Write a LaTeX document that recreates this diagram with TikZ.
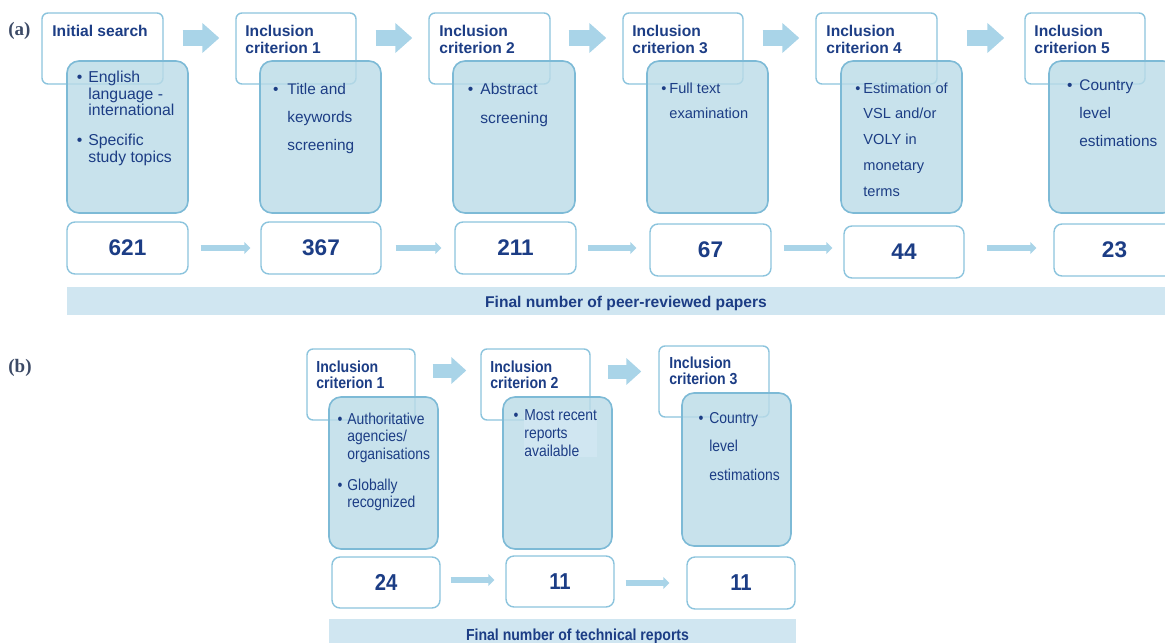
\documentclass[tikz,border=0pt]{standalone}
\usepackage{fontspec}
\setmainfont{Liberation Sans}
\newfontfamily\serifb{Liberation Serif}
\newfontfamily\narrow[FakeStretch=0.88]{Liberation Sans}
\usetikzlibrary{arrows.meta,fit}
\definecolor{navy}{HTML}{1C3D85}
\definecolor{edge}{HTML}{8CC4DD}
\definecolor{bluefill}{HTML}{BADBE7}
\definecolor{bluedge}{HTML}{7DBAD6}
\definecolor{arr}{HTML}{A9D4E8}
\definecolor{barfill}{HTML}{D0E6F1}
\definecolor{lbl}{HTML}{3C4A66}
\newcommand\bul[1][3pt]{\llap{•\hspace{#1}}}
\begin{document}
\begin{tikzpicture}[x=0.5pt,y=-0.5pt,
  hdr/.style={draw=edge, line width=0.7pt, fill=white, rounded corners=3pt, inner sep=0pt},
  bluebox/.style={draw=bluedge, line width=0.8pt, fill=bluefill, fill opacity=0.8, rounded corners=6pt, inner sep=0pt},
  num/.style={draw=edge, line width=0.7pt, fill=white, rounded corners=4pt, inner sep=0pt},
  numtxt/.style={inner sep=0pt, text=navy, font=\bfseries\fontsize{11.3}{13}\selectfont},
  numtxtb/.style={numtxt, font=\narrow\bfseries\fontsize{11.5}{13}\selectfont},
  bar/.style={fill=barfill, draw=none, inner sep=0pt},
  hdrtxt/.style={anchor=north west, inner sep=0pt, align=left, text=navy, font=\bfseries\fontsize{7.8}{8.5}\selectfont},
  hdrtxtb/.style={hdrtxt, font=\narrow\bfseries\fontsize{8}{8}\selectfont},
  bodytxt/.style={anchor=north west, inner sep=0pt, align=left, text=navy},
  bartxt/.style={anchor=base, inner sep=0pt, text=navy, font=\bfseries\fontsize{7.8}{9}\selectfont},
  bigarr/.style={draw=arr, line width=8pt, -{Triangle[length=8.5pt,width=14.5pt]}},
  bigarrb/.style={draw=arr, line width=7pt, -{Triangle[length=7.5pt,width=13pt]}},
  smallarr/.style={draw=arr, line width=2.8pt, -{Triangle[length=3pt,width=6pt]}},
  lbltxt/.style={anchor=west, inner sep=0pt, text=lbl, font=\serifb\bfseries\fontsize{9.5}{10}\selectfont}
]
\useasboundingbox (0,0) rectangle (1165,642);
\clip (0,0) rectangle (1165,642);

% ---------------- part (a) ----------------
\node[lbltxt] (la) at (8,31) {(a)};

\node[hdr, fit={(42,13) (163,84)}] (h1) {};
\node[hdr, fit={(236,13) (356,84)}] (h2) {};
\node[hdr, fit={(429,13) (550,84)}] (h3) {};
\node[hdr, fit={(623,13) (743,84)}] (h4) {};
\node[hdr, fit={(816,13) (937,84)}] (h5) {};
\node[hdr, fit={(1025,13) (1145,84)}] (h6) {};

\node[hdrtxt] (t1) at (52,24.6) {Initial search};
\node[hdrtxt] (t2) at (245,24.6) {Inclusion\\criterion 1};
\node[hdrtxt] (t3) at (439,24.6) {Inclusion\\criterion 2};
\node[hdrtxt] (t4) at (632,24.6) {Inclusion\\criterion 3};
\node[hdrtxt] (t5) at (826,24.6) {Inclusion\\criterion 4};
\node[hdrtxt] (t6) at (1034,24.6) {Inclusion\\criterion 5};

\node[bluebox, fit={(67,61) (188,213)}] (b1) {};
\node[bluebox, fit={(260,61) (381,213)}] (b2) {};
\node[bluebox, fit={(453,61) (575,213)}] (b3) {};
\node[bluebox, fit={(647,61) (768,213)}] (b4) {};
\node[bluebox, fit={(841,61) (962,213)}] (b5) {};
\node[bluebox, fit={(1049,61) (1175,213)}] (b6) {};

\node[bodytxt, font=\fontsize{7.9}{8.35}\selectfont] (c1) at (88,70.5)
  {\bul English\\language -\\international\\[6.65pt]\bul Specific\\study topics};
\node[bodytxt, font=\fontsize{7.7}{14}\selectfont] (c2) at (287,82.7)
  {\bul[4.5pt]Title and\\keywords\\screening};
\node[bodytxt, font=\fontsize{7.8}{14.5}\selectfont] (c3) at (480,82.5)
  {\bul[3.5pt]Abstract\\screening};
\node[bodytxt, font=\fontsize{7.3}{12.5}\selectfont] (c4) at (669,82.3)
  {\bul[1.5pt]Full text\\examination};
\node[bodytxt, font=\fontsize{7.3}{12.85}\selectfont] (c5) at (863,82.3)
  {\bul[1.5pt]Estimation of\\VSL and/or\\VOLY in\\monetary\\terms};
\node[bodytxt, font=\fontsize{7.7}{14}\selectfont] (c6) at (1079,79.7)
  {\bul[3.5pt]Country\\level\\estimations};

\node[num, fit={(67,222) (188,274)}, label={[numtxt]center:621}] (n1) {};
\node[num, fit={(261,222) (381,274)}, label={[numtxt]center:367}] (n2) {};
\node[num, fit={(455,222) (576,274)}, label={[numtxt]center:211}] (n3) {};
\node[num, fit={(650,224) (771,276)}, label={[numtxt]center:67}] (n4) {};
\node[num, fit={(844,226) (964,278)}, label={[numtxt]center:44}] (n5) {};
\node[num, fit={(1054,224) (1175,276)}, label={[numtxt]center:23}] (n6) {};

\draw[bigarr, shorten <=9.5pt, shorten >=8pt] (h1.east |- 0,38) -- (h2.west |- 0,38);
\draw[bigarr, shorten <=9.5pt, shorten >=8pt] (h2.east |- 0,38) -- (h3.west |- 0,38);
\draw[bigarr, shorten <=9pt, shorten >=8pt] (h3.east |- 0,38) -- (h4.west |- 0,38);
\draw[bigarr, shorten <=9.5pt, shorten >=8pt] (h4.east |- 0,38) -- (h5.west |- 0,38);
\draw[bigarr, shorten <=14.5pt, shorten >=10pt] (h5.east |- 0,38) -- (h6.west |- 0,38);

\draw[smallarr, shorten <=6pt, shorten >=5pt] (n1.east |- 0,248) -- (n2.west |- 0,248);
\draw[smallarr, shorten <=7pt, shorten >=6.5pt] (n2.east |- 0,248) -- (n3.west |- 0,248);
\draw[smallarr, shorten <=5.5pt, shorten >=6.5pt] (n3.east |- 0,248) -- (n4.west |- 0,248);
\draw[smallarr, shorten <=6pt, shorten >=5.5pt] (n4.east |- 0,248) -- (n5.west |- 0,248);
\draw[smallarr, shorten <=11pt, shorten >=8.5pt] (n5.east |- 0,248) -- (n6.west |- 0,248);

\node[bar, fit={(67,287) (1185,315)}] (fa) {};
\node[bartxt] (fat) at (626,307.5) {Final number of peer-reviewed papers};

% ---------------- part (b) ----------------
\node[lbltxt] (lb) at (8,368) {(b)};

\node[hdr, fit={(307,349) (415,420)}] (hb1) {};
\node[hdr, fit={(481,349) (590,420)}] (hb2) {};
\node[hdr, fit={(659,346) (769,417)}] (hb3) {};

\node[hdrtxtb] (tb1) at (316,360.3) {Inclusion\\criterion 1};
\node[hdrtxtb] (tb2) at (490,360.3) {Inclusion\\criterion 2};
\node[hdrtxtb] (tb3) at (669,356.3) {Inclusion\\criterion 3};

\node[bluebox, fit={(329,397) (438,549)}] (bb1) {};
\node[bluebox, fit={(503,397) (612,549)}] (bb2) {};
\node[bluebox, fit={(682,393) (791,546)}] (bb3) {};

\node[bodytxt, font=\narrow\fontsize{7.9}{8.75}\selectfont] (cb1) at (347,412.6)
  {\bul[2.5pt]Authoritative\\agencies/\\organisations\\[6.75pt]\bul[2.5pt]Globally\\recognized};
\node[bodytxt, font=\narrow\fontsize{7.9}{9}\selectfont, fill=barfill] (cb2) at (524,409.6)
  {\bul Most recent\\reports\\available};
\node[bodytxt, font=\narrow\fontsize{7.9}{14.25}\selectfont] (cb3) at (709,411.6)
  {\bul Country\\level\\estimations};

\node[num, fit={(332,557) (440,608)}, label={[numtxtb]center:24}] (nb1) {};
\node[num, fit={(506,556) (614,607)}, label={[numtxtb]center:11}] (nb2) {};
\node[num, fit={(687,557) (795,609)}, label={[numtxtb]center:11}] (nb3) {};

\draw[bigarrb, shorten <=8.5pt, shorten >=7pt] (hb1.east |- 0,370.5) -- (hb2.west |- 0,370.5);
\draw[bigarrb, shorten <=8.5pt, shorten >=8.5pt] (hb2.east |- 0,371.5) -- (hb3.west |- 0,371.5);

\draw[smallarr, shorten <=5pt, shorten >=5.5pt] (nb1.east |- 0,580) -- (nb2.west |- 0,580);
\draw[smallarr, shorten <=5.5pt, shorten >=8.5pt] (nb2.east |- 0,583) -- (nb3.west |- 0,583);

\node[bar, fit={(329,619) (796,665)}] (fb) {};
\node[bartxt, font=\narrow\bfseries\fontsize{8}{9}\selectfont] (fbt) at (577.5,640) {Final number of technical reports};
\end{tikzpicture}
\end{document}
